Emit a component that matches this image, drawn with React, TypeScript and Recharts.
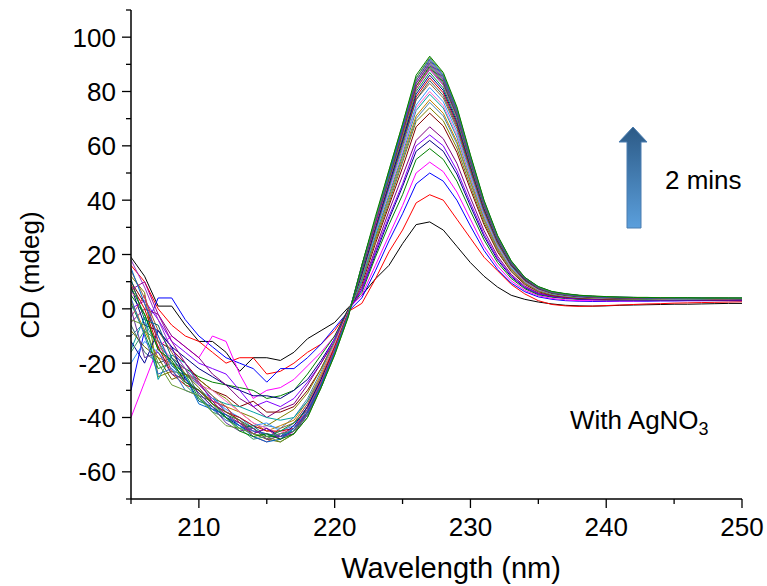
import React from 'react';
import { LineChart, Line, XAxis, YAxis } from 'recharts';

const wavelengths = [205, 206, 207, 208, 209, 210, 211, 212, 213, 214, 215, 216, 217, 218, 219, 220, 221, 222, 223, 224, 225, 226, 227, 228, 229, 230, 231, 232, 233, 234, 235, 236, 237, 238, 239, 240, 241, 242, 243, 244, 245, 246, 247, 248, 249, 250];

const s01 = [19, 12, 1, 1, -6, -12, -12, -16, -23, -18, -18, -19, -16, -11, -8, -5, 0.5, 5, 11, 16, 24, 31, 32, 29, 23, 17, 12, 8, 5, 3.5, 2.5, 1.8, 1.3, 1.1, 1, 1.1, 1.3, 1.4, 1.5, 1.6, 1.7, 1.7, 1.8, 1.9, 2, 2];
const s02 = [16, 10, 0, -6, -10, -12, -16, -20, -18, -18, -24, -23, -20, -16, -13, -8, -1, 2, 11, 21, 29, 39, 42, 40, 33, 26, 19, 14, 9, 5.5, 3, 1.6, 1.1, 0.9, 1, 1.2, 1.4, 1.6, 1.8, 1.9, 2.1, 2.2, 2.3, 2.4, 2.5, 2.6];
const s03 = [-30, -8, 4, 4, -4, -10, -14, -18, -20, -22, -27, -22, -22, -18, -13, -7, -1, 4, 14, 25, 35, 46, 50, 47, 40, 30.5, 21.5, 14.5, 9.5, 6.3, 4.4, 3.5, 3, 2.8, 2.7, 2.7, 2.8, 2.8, 2.8, 2.9, 2.9, 3, 3, 3, 3, 3];
const s04 = [-40, -27, -14, -10, -14, -18, -10, -12, -24, -33, -30, -29, -26, -21, -16, -10, 0, 5, 16, 27, 38, 50, 54, 50.5, 43, 33, 23, 15.7, 10.3, 6.8, 4.8, 3.8, 3.3, 3, 3, 2.9, 2.9, 2.9, 3, 3, 3, 3, 3, 3.1, 3.1, 3.1];
const s05 = [5, -2, -15, -20, -22, -25, -27, -28, -29, -30, -33, -32, -30, -24, -17, -10, 0, 6, 19, 31, 42, 55, 59, 55, 47, 36, 25.4, 17, 11.2, 7.4, 5.2, 4.3, 3.8, 3.5, 3.4, 3.3, 3.2, 3.2, 3.2, 3.2, 3.2, 3.2, 3.2, 3.2, 3.3, 3.3];
const s06 = [8, -6, -8, -14, -18, -22, -25, -28, -30, -32, -32, -33, -30, -26, -19, -11, -0.5, 7, 20, 33, 45, 58, 62, 58, 49.6, 37.8, 26.7, 18, 11.8, 7.8, 5.5, 4.5, 4, 3.6, 3.4, 3.3, 3.3, 3.3, 3.3, 3.3, 3.3, 3.2, 3.2, 3.2, 3.2, 3.2];
const s07 = [0, 3, -4, -12, -16, -20, -22, -24, -30, -36, -34, -36, -33, -27, -20, -11, -1, 7, 21, 34, 46, 60, 64, 60, 51, 39, 27.5, 18.6, 12.2, 8, 5.6, 4.6, 4, 3.7, 3.5, 3.4, 3.3, 3.3, 3.3, 3.3, 3.3, 3.3, 3.3, 3.3, 3.3, 3.3];
const s08 = [-5, 0, -2, -10, -14, -18, -24, -28, -33, -36, -40, -37, -35, -28, -20, -12, -1, 8, 22, 36, 49, 62, 67, 62.6, 53.6, 40.9, 28.8, 19.4, 12.7, 8.4, 5.9, 4.8, 4.2, 3.8, 3.6, 3.5, 3.4, 3.4, 3.4, 3.4, 3.4, 3.4, 3.3, 3.3, 3.3, 3.3];
const s09 = [10, 2, -12, -15, -20, -26, -30, -32, -36, -34, -38, -38, -36, -30, -22, -12, -1, 9, 24, 38, 52, 67, 72, 67.3, 57.6, 43.9, 31, 20.9, 13.7, 9, 6.3, 5, 4.4, 4, 3.8, 3.6, 3.6, 3.5, 3.5, 3.5, 3.5, 3.5, 3.4, 3.4, 3.4, 3.4];
const s10 = [12, 6, -25, -23, -24, -26, -30, -33, -38, -40, -43, -40, -37, -31, -22, -12, -1, 10, 25, 39, 54, 69, 74, 69.2, 59.2, 45.1, 31.8, 21.5, 14, 9.3, 6.5, 5.2, 4.5, 4.1, 3.9, 3.7, 3.6, 3.6, 3.6, 3.6, 3.5, 3.5, 3.5, 3.5, 3.5, 3.5];
const s11 = [-10, -5, -14, -18, -24, -28, -32, -38, -40, -44, -43, -44, -40, -33, -23, -12, -1.5, 10, 26, 40, 55, 70, 76, 71, 60.8, 46.4, 32.7, 22, 14.4, 9.5, 6.7, 5.3, 4.6, 4.2, 4, 3.8, 3.7, 3.6, 3.6, 3.6, 3.6, 3.6, 3.5, 3.5, 3.5, 3.5];
const s12 = [3, -8, -18, -20, -26, -30, -34, -36, -38, -42, -45, -43, -41, -34, -24, -13, -1.5, 11, 26, 41, 56, 71, 77, 72, 61.6, 47, 33.1, 22.3, 14.6, 9.6, 6.8, 5.4, 4.7, 4.3, 4, 3.9, 3.8, 3.7, 3.7, 3.6, 3.6, 3.6, 3.6, 3.6, 3.6, 3.6];
const s13 = [-15, -3, -26, -17, -20, -28, -33, -35, -36, -38, -40, -41, -40, -34, -25, -14, -1.5, 11, 27, 42, 57, 73, 79, 73.9, 63.2, 48.2, 34, 22.9, 15, 9.9, 7, 5.5, 4.8, 4.3, 4.1, 3.9, 3.8, 3.8, 3.7, 3.7, 3.7, 3.6, 3.6, 3.6, 3.6, 3.6];
const s14 = [6, 2, -10, -20, -22, -28, -30, -34, -38, -42, -44, -46, -42, -35, -25, -13, -1, 12, 28, 43, 58, 74, 80, 74.8, 64, 48.8, 34.4, 23.2, 15.2, 10, 7, 5.6, 4.8, 4.4, 4.1, 4, 3.9, 3.8, 3.8, 3.7, 3.7, 3.7, 3.7, 3.6, 3.6, 3.6];
const s15 = [-20, -12, -16, -22, -26, -30, -33, -37, -40, -43, -42, -45, -43, -36, -26, -14, -1.5, 12, 28, 44, 59, 75, 81.5, 76.2, 65.2, 49.7, 35, 23.6, 15.5, 10.2, 7.2, 5.6, 4.9, 4.4, 4.2, 4, 3.9, 3.8, 3.8, 3.8, 3.7, 3.7, 3.7, 3.7, 3.6, 3.6];
const s16 = [14, 4, -8, -16, -24, -27, -32, -36, -42, -44, -48, -44, -42, -35, -25, -14, -1.5, 12, 29, 45, 60, 77, 83, 77.6, 66.4, 50.6, 35.7, 24, 15.8, 10.4, 7.3, 5.7, 5, 4.5, 4.2, 4, 3.9, 3.9, 3.8, 3.8, 3.8, 3.7, 3.7, 3.7, 3.7, 3.7];
const s17 = [-6, -16, -20, -18, -22, -32, -34, -40, -42, -45, -46, -47, -45, -37, -27, -15, -2, 13, 29, 45, 61, 77, 84, 78.5, 67.2, 51.2, 36.1, 24.4, 16, 10.5, 7.4, 5.8, 5, 4.5, 4.3, 4.1, 4, 3.9, 3.9, 3.8, 3.8, 3.8, 3.7, 3.7, 3.7, 3.7];
const s18 = [9, 0, -14, -24, -28, -30, -35, -38, -40, -43, -45, -45, -44, -36, -26, -14, -1.5, 13, 30, 46, 62, 78, 85, 79.5, 68, 51.9, 36.6, 24.7, 16.2, 10.6, 7.5, 5.8, 5.1, 4.6, 4.3, 4.1, 4, 3.9, 3.9, 3.9, 3.8, 3.8, 3.8, 3.7, 3.7, 3.7];
const s19 = [-12, -20, -8, -14, -26, -31, -36, -40, -43, -46, -44, -47, -43, -36, -26, -15, -2, 13, 30, 46, 62, 79, 86, 80.4, 68.8, 52.5, 37, 25, 16.3, 10.8, 7.6, 5.9, 5.1, 4.6, 4.3, 4.2, 4, 4, 3.9, 3.9, 3.9, 3.8, 3.8, 3.8, 3.8, 3.7];
const s20 = [2, -9, -22, -20, -24, -33, -37, -39, -41, -44, -47, -45, -42, -37, -27, -15, -2, 14, 31, 47, 63, 80, 87, 81.3, 69.6, 53, 37.4, 25.2, 16.5, 10.9, 7.7, 5.9, 5.2, 4.7, 4.4, 4.2, 4.1, 4, 4, 3.9, 3.9, 3.9, 3.8, 3.8, 3.8, 3.8];
const s21 = [18, 8, -4, -15, -22, -28, -33, -38, -41, -45, -46, -48, -44, -37, -27, -15, -2, 14, 31, 47, 64, 81, 88, 82.3, 70.4, 53.7, 37.8, 25.5, 16.7, 11, 7.7, 6, 5.2, 4.7, 4.4, 4.2, 4.1, 4, 4, 3.9, 3.9, 3.9, 3.9, 3.8, 3.8, 3.8];
const s22 = [-3, 5, -12, -23, -27, -30, -34, -36, -42, -47, -49, -46, -44, -38, -27, -15, -2, 14, 31, 48, 64, 81, 88.5, 82.7, 70.8, 54, 38, 25.7, 16.8, 11.1, 7.8, 6, 5.2, 4.7, 4.4, 4.3, 4.1, 4, 4, 4, 3.9, 3.9, 3.9, 3.9, 3.8, 3.8];
const s23 = [11, -4, -6, -18, -25, -34, -36, -40, -44, -43, -47, -47, -45, -38, -28, -16, -2, 14, 32, 48, 65, 82, 89, 83.2, 71.2, 54.3, 38.3, 25.8, 16.9, 11.1, 7.8, 6, 5.3, 4.8, 4.5, 4.3, 4.1, 4.1, 4, 4, 4, 3.9, 3.9, 3.9, 3.8, 3.8];
const s24 = [-8, -14, -18, -26, -24, -29, -35, -38, -41, -46, -48, -49, -46, -38, -28, -16, -2, 15, 32, 48, 65, 82, 89.5, 83.7, 71.6, 54.6, 38.5, 26, 17, 11.2, 7.9, 6.1, 5.3, 4.8, 4.5, 4.3, 4.2, 4.1, 4, 4, 4, 3.9, 3.9, 3.9, 3.9, 3.8];
const s25 = [4, -10, -24, -22, -30, -32, -37, -41, -43, -45, -46, -47, -44, -39, -28, -16, -2, 15, 32, 49, 66, 83, 90, 84.2, 72, 54.9, 38.7, 26.1, 17.1, 11.3, 7.9, 6.1, 5.3, 4.8, 4.5, 4.3, 4.2, 4.1, 4.1, 4, 4, 4, 3.9, 3.9, 3.9, 3.9];
const s26 = [7, 10, -2, -12, -20, -27, -34, -39, -42, -46, -44, -48, -45, -38, -28, -16, -2.5, 15, 32, 49, 66, 83, 90.5, 84.6, 72.4, 55.2, 38.9, 26.2, 17.2, 11.3, 8, 6.2, 5.4, 4.9, 4.6, 4.4, 4.2, 4.1, 4.1, 4, 4, 4, 4, 3.9, 3.9, 3.9];
const s27 = [-16, -8, -12, -20, -28, -33, -38, -40, -44, -48, -47, -46, -45, -39, -29, -16, -2.5, 15, 33, 49, 67, 84, 91, 85.1, 72.8, 55.5, 39.1, 26.4, 17.3, 11.4, 8, 6.2, 5.4, 4.9, 4.6, 4.4, 4.2, 4.2, 4.1, 4.1, 4, 4, 4, 3.9, 3.9, 3.9];
const s28 = [0, -18, -16, -24, -26, -31, -36, -42, -45, -44, -48, -47, -46, -39, -29, -16, -2.5, 16, 33, 50, 67, 84, 91.5, 85.6, 73.2, 55.8, 39.3, 26.5, 17.4, 11.4, 8, 6.2, 5.4, 4.9, 4.6, 4.4, 4.3, 4.2, 4.1, 4.1, 4, 4, 4, 4, 3.9, 3.9];
const s29 = [15, 2, -10, -21, -25, -35, -37, -39, -43, -47, -49, -48, -44, -38, -28, -16, -2.5, 16, 33, 50, 67, 85, 92, 86, 73.6, 56.1, 39.6, 26.7, 17.5, 11.5, 8.1, 6.3, 5.5, 4.9, 4.6, 4.4, 4.3, 4.2, 4.1, 4.1, 4.1, 4, 4, 4, 3.9, 3.9];
const s30 = [-4, -6, -20, -28, -30, -32, -38, -43, -44, -46, -47, -49, -46, -40, -29, -17, -3, 16, 33, 51, 68, 85, 92.5, 86.5, 74, 56.4, 39.8, 26.8, 17.6, 11.6, 8.1, 6.3, 5.5, 5, 4.7, 4.5, 4.3, 4.2, 4.2, 4.1, 4.1, 4, 4, 4, 4, 3.9];
const s31 = [8, -2, -15, -19, -27, -30, -35, -40, -45, -47, -46, -48, -46, -40, -29, -17, -3, 16, 34, 51, 68, 86, 93, 87, 74.4, 56.7, 40, 27, 17.7, 11.6, 8.2, 6.4, 5.6, 5, 4.7, 4.5, 4.3, 4.2, 4.2, 4.1, 4.1, 4.1, 4, 4, 4, 4];

const seriesList = [s01, s02, s03, s04, s05, s06, s07, s08, s09, s10, s11, s12, s13, s14, s15, s16, s17, s18, s19, s20, s21, s22, s23, s24, s25, s26, s27, s28, s29, s30, s31];

const seriesColors = [
  '#000000', '#ff0000', '#0000ff', '#ff00ff', '#008000', '#000080', '#8000ff', '#800080',
  '#800000', '#808000', '#4682b4', '#c08000', '#00a0a0', '#ff66cc', '#3399ff', '#996633',
  '#336666', '#cc0000', '#000099', '#009933', '#9933cc', '#cc3366', '#006666', '#666600',
  '#3366cc', '#990099', '#339966', '#663399', '#0066cc', '#669933', '#008000',
];

const xTicks = [205, 210, 215, 220, 225, 230, 235, 240, 245, 250];
const yTicks = [-70, -60, -50, -40, -30, -20, -10, 0, 10, 20, 30, 40, 50, 60, 70, 80, 90, 100, 110];

const data = wavelengths.map((wl, i) => {
  const row: Record<string, number> = { wl };
  seriesList.forEach((s, k) => {
    row['s' + k] = s[i];
  });
  return row;
});

const FONT = '"Liberation Sans", Arial, Helvetica, sans-serif';

const XTick = (props: any) => {
  const { x, y, payload } = props;
  const v = payload.value;
  const major = v % 10 === 0;
  return (
    <g>
      <line x1={x} x2={x} y1={y} y2={y + (major ? 9 : 5)} stroke="#000" strokeWidth={1.3} />
      {major && (
        <text x={x} y={y + 37} textAnchor="middle" fontSize={26} fontFamily={FONT} fill="#000">
          {v}
        </text>
      )}
    </g>
  );
};

const YTick = (props: any) => {
  const { x, y, payload } = props;
  const v = payload.value;
  const major = v % 20 === 0;
  return (
    <g>
      <line x1={x - (major ? 9 : 5)} x2={x} y1={y} y2={y} stroke="#000" strokeWidth={1.3} />
      {major && (
        <text x={x - 15} y={y} dy="0.36em" textAnchor="end" fontSize={26} fontFamily={FONT} fill="#000">
          {v}
        </text>
      )}
    </g>
  );
};

export default function App() {
  return (
    <div style={{ position: 'relative', width: 767, height: 586 }}>
      <style>{'html, body { margin: 0; padding: 0; overflow: hidden; }'}</style>
      <LineChart width={767} height={586} data={data} margin={{ top: 10, right: 25, bottom: 27, left: 71 }}>
        <XAxis
          dataKey="wl"
          type="number"
          domain={[205, 250]}
          ticks={xTicks}
          interval={0}
          allowDataOverflow
          height={60}
          tickSize={0}
          tickMargin={0}
          tickLine={false}
          axisLine={{ stroke: '#000', strokeWidth: 1.5 }}
          tick={<XTick />}
        />
        <YAxis
          type="number"
          domain={[-70, 110]}
          ticks={yTicks}
          interval={0}
          allowDataOverflow
          width={60}
          tickSize={0}
          tickMargin={0}
          tickLine={false}
          axisLine={{ stroke: '#000', strokeWidth: 1.5 }}
          tick={<YTick />}
        />
        {seriesList.map((_, k) => (
          <Line
            key={k}
            type="linear"
            dataKey={'s' + k}
            stroke={seriesColors[k]}
            strokeWidth={1}
            dot={false}
            activeDot={false}
            isAnimationActive={false}
          />
        ))}
      </LineChart>
      <svg
        width={767}
        height={586}
        style={{ position: 'absolute', left: 0, top: 0, pointerEvents: 'none' }}
      >
        <defs>
          <linearGradient id="arrowGrad" x1="0" y1="0" x2="0" y2="1">
            <stop offset="0%" stopColor="#2c5a86" />
            <stop offset="100%" stopColor="#5b9fdc" />
          </linearGradient>
        </defs>
        <polygon
          points="633,127 647,142 641,142 641,228 627,228 627,142 619,142"
          fill="url(#arrowGrad)"
          stroke="#4a7db0"
          strokeWidth={1}
        />
        <text x={665} y={189} fontSize={26} fontFamily={FONT} fill="#000">
          2 mins
        </text>
        <text x={570} y={429} fontSize={26} fontFamily={FONT} fill="#000">
          With AgNO<tspan fontSize={18} dy={6}>3</tspan>
        </text>
        <text
          x={30}
          y={275}
          dy="0.36em"
          transform="rotate(-90 30 275)"
          textAnchor="middle"
          fontSize={26}
          fontFamily={FONT}
          fill="#000"
        >
          CD (mdeg)
        </text>
        <text x={451} y={578} textAnchor="middle" fontSize={29} fontFamily={FONT} fill="#000">
          Wavelength (nm)
        </text>
      </svg>
    </div>
  );
}
